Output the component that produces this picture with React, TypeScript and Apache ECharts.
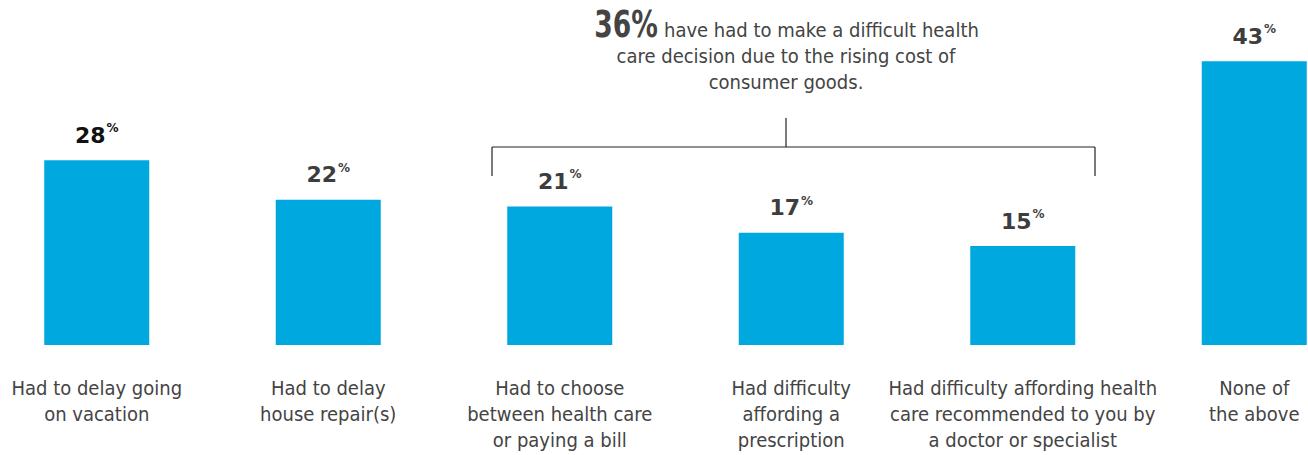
import React, { useEffect, useRef } from "react";
import * as echarts from "echarts";

const categories = [
  "Had to delay going\non vacation",
  "Had to delay\nhouse repair(s)",
  "Had to choose\nbetween health care\nor paying a bill",
  "Had difficulty\naffording a\nprescription",
  "Had difficulty affording health\ncare recommended to you by\na doctor or specialist",
  "None of\nthe above",
];
const values = [28, 22, 21, 17, 15, 43];
const labelColors = ["#111111", "#3d3d3d", "#3d3d3d", "#3d3d3d", "#3d3d3d", "#3d3d3d"];
const annotationBold = "36%";
const annotationLines = [
  "have had to make a difficult health",
  "care decision due to the rising cost of",
  "consumer goods.",
];

const NARROW = '"DejaVu Sans Condensed", "Liberation Sans Narrow", "Liberation Sans", sans-serif';
const BOLD = '"DejaVu Sans", "Liberation Sans", sans-serif';
const OFF = 19; // inner canvas is shifted left by this many pixels

export default function App() {
  const ref = useRef<HTMLDivElement>(null);
  useEffect(() => {
    document.body.style.margin = "0";
    const chart = echarts.init(ref.current!, null, { renderer: "svg" });
    const lineStyle = { stroke: "#222222", lineWidth: 1.2 };
    chart.setOption({
      animation: false,
      backgroundColor: "#ffffff",
      grid: { left: 0, right: 0, top: 15, bottom: 110, containLabel: false },
      xAxis: {
        type: "category",
        data: categories,
        axisLine: { show: false },
        axisTick: { show: false },
        axisLabel: {
          interval: 0,
          margin: 30,
          color: "#444444",
          fontFamily: NARROW,
          fontSize: 20,
          lineHeight: 26,
          verticalAlign: "top",
        },
      },
      yAxis: {
        type: "value",
        min: 0,
        max: 50,
        show: false,
        splitLine: { show: false },
      },
      series: [
        {
          type: "bar",
          barWidth: 105,
          itemStyle: { color: "#00A8E0" },
          data: values.map((v, i) => ({
            value: v,
            label: {
              show: true,
              position: "top",
              distance: 12,
              formatter: "{n|" + v + "}{p|%}",
              rich: {
                n: { fontFamily: BOLD, fontWeight: "bold", fontSize: 22, lineHeight: 26, color: labelColors[i] },
                p: { fontFamily: BOLD, fontWeight: "bold", fontSize: 12, lineHeight: 26, verticalAlign: "top", padding: [0, 0, 0, 1], color: labelColors[i] },
              },
            },
          })),
        },
      ],
      graphic: [
        {
          type: "text",
          x: 658 + OFF,
          y: 24,
          scaleX: 0.7,
          style: {
            text: annotationBold,
            align: "right",
            verticalAlign: "middle",
            fontFamily: BOLD,
            fontWeight: "bold",
            fontSize: 38,
            fill: "#444444",
          },
        },
        {
          type: "text",
          x: 664 + OFF,
          y: 30,
          style: {
            text: annotationLines[0],
            align: "left",
            verticalAlign: "middle",
            fontFamily: NARROW,
            fontSize: 20,
            fill: "#444444",
          },
        },
        {
          type: "text",
          x: 786 + OFF,
          y: 43,
          style: {
            text: annotationLines[1] + "\n" + annotationLines[2],
            align: "center",
            verticalAlign: "top",
            fontFamily: NARROW,
            fontSize: 20,
            lineHeight: 26,
            fill: "#444444",
          },
        },
        { type: "line", shape: { x1: 492 + OFF, y1: 147, x2: 1095 + OFF, y2: 147 }, style: lineStyle },
        { type: "line", shape: { x1: 492 + OFF, y1: 147, x2: 492 + OFF, y2: 176 }, style: lineStyle },
        { type: "line", shape: { x1: 1095 + OFF, y1: 147, x2: 1095 + OFF, y2: 176 }, style: lineStyle },
        { type: "line", shape: { x1: 786 + OFF, y1: 118, x2: 786 + OFF, y2: 147 }, style: lineStyle },
      ],
    });
    return () => chart.dispose();
  }, []);
  return (
    <div style={{ position: "relative", width: 1308, height: 455, overflow: "hidden", background: "#fff" }}>
      <div ref={ref} style={{ position: "absolute", left: -OFF, top: 0, width: 1389, height: 455 }} />
    </div>
  );
}
